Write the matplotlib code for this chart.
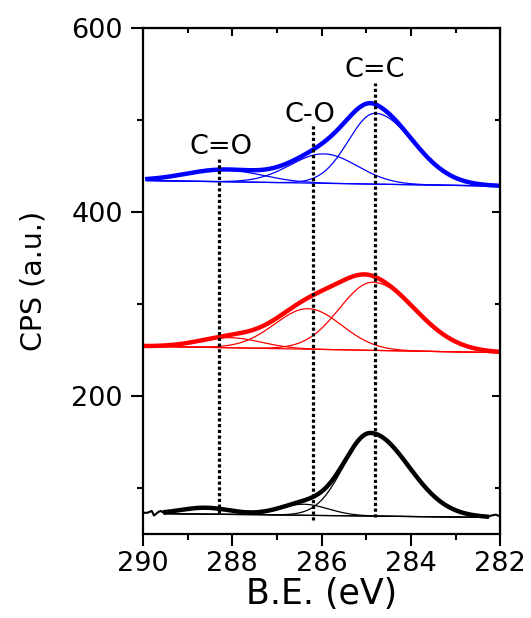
import numpy as np
import matplotlib as mpl
import matplotlib.pyplot as plt
from matplotlib.ticker import MultipleLocator

mpl.use("Agg")
plt.rcParams["font.family"] = ["DejaVu Sans"]

# peak assignments and the dotted marker lines
peak_names = ["C=O", "C-O", "C=C"]
marker_be = [288.3, 286.2, 284.8]
label_be = [288.25, 286.25, 284.8]
label_y = [463, 498, 547]
line_top = [457, 494, 540]
line_bottom = [73, 65, 68]

# fitted components (C=O, C-O, C=C)
# widths are given separately for the high-BE (left) and low-BE (right) side
black_center = [288.6, 286.4, 284.9]
black_height = [7, 12, 90]
black_sig_hi = [0.55, 0.55, 0.6]
black_sig_lo = [0.55, 0.55, 0.85]
black_base = [72, 68]          # background at high / low BE end
black_range = [289.5, 282.3]
black_raw_be = [290.0, 289.9, 289.8, 289.75, 289.65, 289.6, 289.5]
black_raw_cps = [73, 73, 75, 70, 74, 75, 72]
black_tail_be = [282.3, 282.2, 282.1, 282.0]
black_tail_cps = [68, 70, 71, 69]

red_center = [288.05, 286.3, 284.85]
red_height = [11, 44, 74]
red_sig_hi = [0.7, 0.75, 0.75]
red_sig_lo = [0.7, 0.75, 0.95]
red_base = [254, 247]
red_range = [290.0, 282.0]

blue_center = [288.2, 285.95, 284.8]
blue_height = [13, 32, 77]
blue_sig_hi = [0.85, 0.75, 0.6]
blue_sig_lo = [0.85, 0.75, 0.85]
blue_base = [434, 428]
blue_range = [289.9, 282.0]


def draw_spectrum(ax, center, height, sig_hi, sig_lo, base, be_range, color):
    be = np.linspace(be_range[0], be_range[1], 600)
    background = np.interp(be, be_range[::-1], base[::-1])
    total = background.copy()
    for c, h, s_hi, s_lo in zip(center, height, sig_hi, sig_lo):
        s = np.where(be > c, s_hi, s_lo)
        comp = h * np.exp(-0.5 * ((be - c) / s) ** 2)
        total += comp
        ax.plot(be, background + comp, color=color, lw=0.9)
    ax.plot(be, background, color=color, lw=0.9)
    ax.plot(be, total, color=color, lw=3.2)


fig = plt.figure(figsize=(5.31, 6.18), dpi=100)
ax = fig.add_axes([0.269, 0.136, 0.673, 0.819])

draw_spectrum(ax, black_center, black_height, black_sig_hi, black_sig_lo,
              black_base, black_range, "black")
ax.plot(black_raw_be, black_raw_cps, color="black", lw=1.5)
ax.plot(black_tail_be, black_tail_cps, color="black", lw=1.5)
draw_spectrum(ax, red_center, red_height, red_sig_hi, red_sig_lo,
              red_base, red_range, "#ff0000")
draw_spectrum(ax, blue_center, blue_height, blue_sig_hi, blue_sig_lo,
              blue_base, blue_range, "#0000ff")

for name, be, lbe, ly, top, bot in zip(peak_names, marker_be, label_be, label_y,
                                        line_top, line_bottom):
    ax.plot([be, be], [bot, top], color="black", lw=2.3, linestyle=(0, (1, 0.8)))
    ax.text(lbe, ly, name, fontsize=19.5, ha="center", va="baseline")

ax.set_xlim(290, 282)
ax.set_ylim(50, 600)
ax.xaxis.set_major_locator(MultipleLocator(2))
ax.xaxis.set_minor_locator(MultipleLocator(1))
ax.set_yticks([200, 400, 600])
ax.yaxis.set_minor_locator(MultipleLocator(100))
ax.tick_params(which="both", direction="out", width=1.5, labelsize=19.5,
               top=False, right=False, pad=4)
ax.tick_params(axis="y", which="both", pad=6)
ax.tick_params(which="major", length=8.5)
ax.tick_params(which="minor", length=4)
for side in ax.spines.values():
    side.set_linewidth(1.6)

# inward ticks on top and right edges
sec_x = ax.secondary_xaxis("top")
sec_x.xaxis.set_major_locator(MultipleLocator(2))
sec_x.xaxis.set_minor_locator(MultipleLocator(1))
sec_x.tick_params(which="both", direction="in", width=1.5, labeltop=False)
sec_x.tick_params(which="major", length=6)
sec_x.tick_params(which="minor", length=3.5)
sec_y = ax.secondary_yaxis("right")
sec_y.yaxis.set_major_locator(MultipleLocator(200))
sec_y.yaxis.set_minor_locator(MultipleLocator(100))
sec_y.tick_params(which="both", direction="in", width=1.5, labelright=False)
sec_y.tick_params(which="major", length=6)
sec_y.tick_params(which="minor", length=3.5)

ax.set_xlabel("B.E. (eV)", fontsize=25, labelpad=0)
ax.set_ylabel("CPS (a.u.)", fontsize=20.5, labelpad=17)

fig.savefig("out.png", dpi=100)
